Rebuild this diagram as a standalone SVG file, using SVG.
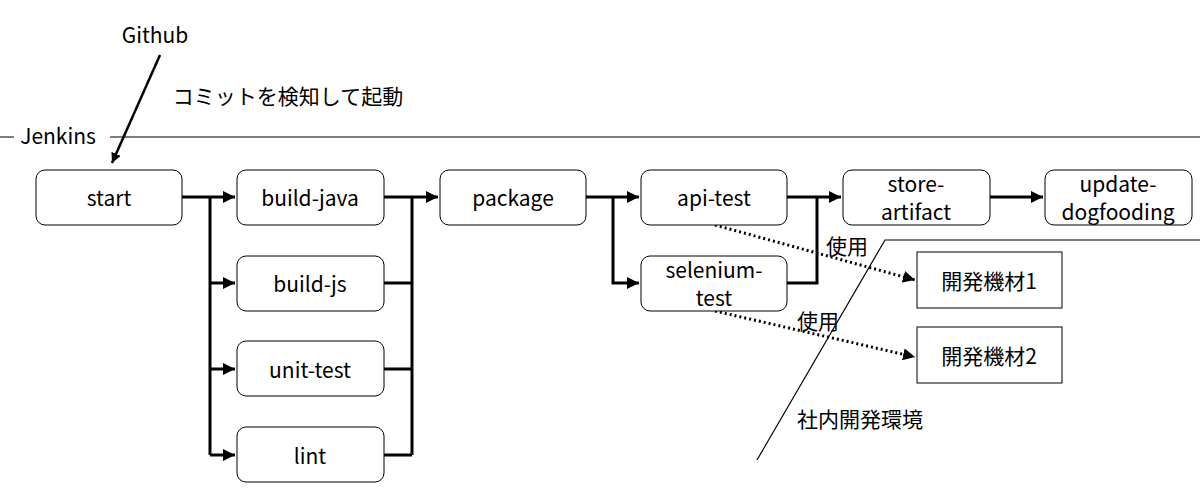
<svg xmlns="http://www.w3.org/2000/svg" width="1200" height="499" viewBox="0 0 1200 499">
<style>
text{font-family:"Noto Sans CJK JP","Noto Sans",sans-serif;font-size:21px;fill:#000;text-anchor:middle;dominant-baseline:central}
.n rect{fill:#fff;stroke:#000;stroke-width:1}
.c{fill:none;stroke:#000;stroke-width:3}
.d{fill:none;stroke:#000;stroke-width:3;stroke-dasharray:2 3}
.l{fill:none;stroke:#000;stroke-width:1.2}
</style>
<defs>
<marker id="a" viewBox="0 0 10 10" refX="10" refY="5" markerWidth="4" markerHeight="4" orient="auto"><path d="M0,0L10,5L0,10z" fill="#000"/></marker>
</defs>
<rect width="1200" height="499" fill="#fff"/>
<text x="155" y="34">Github</text>
<text x="288" y="95">コミットを検知して起動</text>
<text x="58" y="135">Jenkins</text>
<path class="l" d="M0,137H14M110,137H1200"/>
<path class="l" d="M757,460L885,240H1200"/>
<text x="860" y="418">社内開発環境</text>
<g id="connectors">
<path class="c" d="M160,55L112,163" marker-end="url(#a)" style="stroke-width:2.5"/>
<path class="c" d="M182,197H235" marker-end="url(#a)"/>
<path class="c" d="M210,197V455"/>
<path class="c" d="M210,283H235" marker-end="url(#a)"/>
<path class="c" d="M210,369H235" marker-end="url(#a)"/>
<path class="c" d="M210,455H235" marker-end="url(#a)"/>
<path class="c" d="M384,197H412M384,283H412M384,369H412M384,455H412M412,197V455"/>
<path class="c" d="M412,197H438" marker-end="url(#a)"/>
<path class="c" d="M586,197H639" marker-end="url(#a)"/>
<path class="c" d="M613,197V283H639" marker-end="url(#a)"/>
<path class="c" d="M787,197H841" marker-end="url(#a)"/>
<path class="c" d="M787,283H817V197"/>
<path class="c" d="M990,197H1043" marker-end="url(#a)"/>
<path class="d" d="M715,225L915,280" marker-end="url(#a)"/>
<path class="d" d="M715,311L915,357" marker-end="url(#a)"/>
</g>
<text x="847" y="245">使用</text>
<text x="818" y="320">使用</text>
<g id="start" class="n"><rect x="36" y="170" width="146" height="55" rx="9"/><text x="109" y="197">start</text></g>
<g id="build-java" class="n"><rect x="237" y="170" width="147" height="55" rx="9"/><text x="310" y="197">build-java</text></g>
<g id="build-js" class="n"><rect x="237" y="256" width="147" height="55" rx="9"/><text x="310" y="283">build-js</text></g>
<g id="unit-test" class="n"><rect x="237" y="341" width="147" height="55" rx="9"/><text x="310" y="369">unit-test</text></g>
<g id="lint" class="n"><rect x="237" y="427" width="147" height="55" rx="9"/><text x="310" y="455">lint</text></g>
<g id="package" class="n"><rect x="440" y="170" width="146" height="55" rx="9"/><text x="513" y="197">package</text></g>
<g id="api-test" class="n"><rect x="641" y="170" width="146" height="55" rx="9"/><text x="714" y="197">api-test</text></g>
<g id="selenium-test" class="n"><rect x="641" y="256" width="146" height="55" rx="9"/><text x="714" y="269">selenium-</text><text x="714" y="297">test</text></g>
<g id="store-artifact" class="n"><rect x="843" y="170" width="147" height="55" rx="9"/><text x="916" y="183">store-</text><text x="916" y="211">artifact</text></g>
<g id="update-dogfooding" class="n"><rect x="1045" y="170" width="147" height="55" rx="9"/><text x="1118" y="183">update-</text><text x="1118" y="211">dogfooding</text></g>
<g id="dev1" class="n"><rect x="917" y="252" width="145" height="56"/><text x="989" y="280">開発機材1</text></g>
<g id="dev2" class="n"><rect x="917" y="327" width="145" height="56"/><text x="989" y="355">開発機材2</text></g>
</svg>
